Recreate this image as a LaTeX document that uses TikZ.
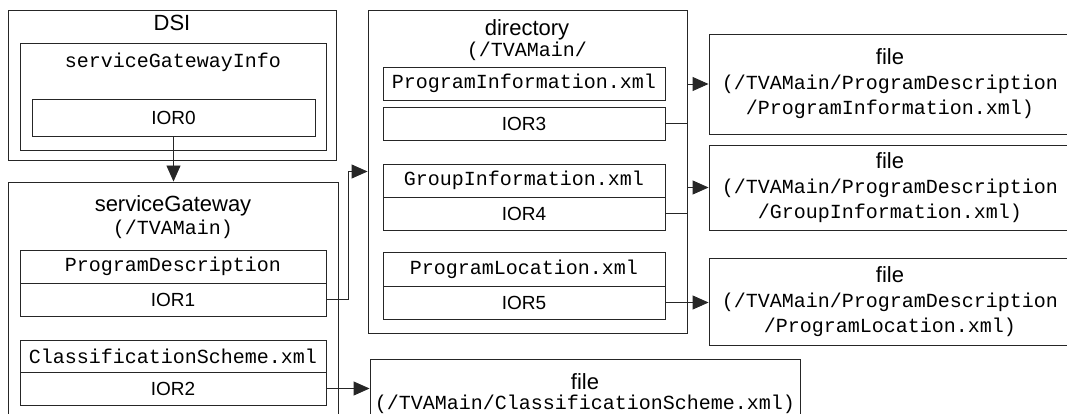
\documentclass[tikz,border=0pt]{standalone}
\usepackage{fontspec}
\setmainfont{Liberation Sans}
\setmonofont{Liberation Mono}
\usetikzlibrary{arrows.meta}

\newcommand{\headfont}{\rmfamily\fontsize{22}{25}\selectfont}

\begin{document}
\begin{tikzpicture}[x=1pt,y=-1pt]
		\tikzset{box/.style = {shape=rectangle, draw=black!85, line width=0.9pt, inner sep=0pt},
			ior/.style = {box, minimum width=282pt, minimum height=33pt, font=\fontsize{19}{22}\selectfont},
			xmlbox/.style = {box, minimum width=282pt, minimum height=33pt, font=\ttfamily\fontsize{20}{24}\selectfont},
			filebox/.style = {box, minimum width=362pt, align=center, font=\ttfamily\fontsize{20}{25}\selectfont},
			heading/.style = {font=\headfont, inner sep=0pt},
			pathtext/.style = {font=\ttfamily\fontsize{20}{24}\selectfont, inner sep=0pt},
			link/.style = {draw=black!85, line width=0.9pt, -{Triangle[length=16pt,width=14pt]}}}

		\useasboundingbox (0,0) rectangle (1067,414);
		\clip (0,0) rectangle (1067,414);

		% DSI
		\node[box, minimum width=328pt, minimum height=150pt] (DSI) at (172,85) {};
		\node[heading] (DSI_t) at (172,23) {DSI};
		\node[box, minimum width=306pt, minimum height=107pt] (SGI) at (173,96.5) {};
		\node[pathtext] (SGI_t) at (173,62) {serviceGatewayInfo};
		\node[ior, minimum width=283pt, minimum height=37pt] (IOR_0) at (173.5,117.5) {IOR0};

		% serviceGateway
		\node[box, minimum width=330pt, minimum height=258pt] (SGW) at (173,311) {};
		\node[heading] (SGW_t) at (173,206) {serviceGateway};
		\node[pathtext] (SGW_p) at (173,229) {(/TVAMain)};
		\node[xmlbox, minimum width=306pt] (Desc) at (173,266.5) {ProgramDescription};
		\node[ior, minimum width=306pt] (IOR_1) at (173,299.5) {IOR1};
		\node[xmlbox, minimum width=306pt, minimum height=32pt] (Class) at (173,356) {ClassificationScheme.xml};
		\node[ior, minimum width=306pt] (IOR_2) at (173,388.5) {IOR2};

		% directory
		\node[box, minimum width=319pt, minimum height=323pt] (Dir) at (527.5,171.5) {};
		\node[heading] (Dir_t) at (527,30) {directory};
		\node[pathtext] (Dir_p) at (527,51) {(/TVAMain/};
		\node[xmlbox] (Info) at (524,83.5) {ProgramInformation.xml};
		\node[ior] (IOR_3) at (524,123.5) {IOR3};
		\node[xmlbox] (Group) at (524,180.5) {GroupInformation.xml};
		\node[ior] (IOR_4) at (524,213.5) {IOR4};
		\node[xmlbox, minimum height=34pt] (Loc) at (524,269) {ProgramLocation.xml};
		\node[ior] (IOR_5) at (524,302.5) {IOR5};

		% files
		\node[filebox, minimum height=100pt] (File_1) at (890,84)
			{{\headfont file}\\(/TVAMain/ProgramDescription\\/ProgramInformation.xml)};
		\node[filebox, minimum height=85pt] (File_2) at (890,187.5)
			{{\headfont file}\\(/TVAMain/ProgramDescription\\/GroupInformation.xml)};
		\node[filebox, minimum height=87pt] (File_3) at (890,301.5)
			{{\headfont file}\\(/TVAMain/ProgramDescription\\/ProgramLocation.xml)};
		\node[filebox, minimum width=430pt, minimum height=70pt, font=\ttfamily\fontsize{20}{20}\selectfont] (File_4) at (585,394)
			{{\headfont file}\\(/TVAMain/ClassificationScheme.xml)};

		%arrows
		\draw[link] (IOR_0) -- (IOR_0 |- SGW.north);
		\draw[link] (IOR_1.east) -- ++(22,0) |- (Dir.west);
		\draw[link] (IOR_2.east) -- (IOR_2.east -| File_4.west);
		\draw[link] (IOR_3.east) -- (IOR_3.east -| Dir.east) |- (File_1.west);
		\draw[link] (IOR_4.east) -- (IOR_4.east -| Dir.east) |- (File_2.west);
		\draw[link] (IOR_5.east) -- (IOR_5.east -| File_3.west);

	\end{tikzpicture}
\end{document}
